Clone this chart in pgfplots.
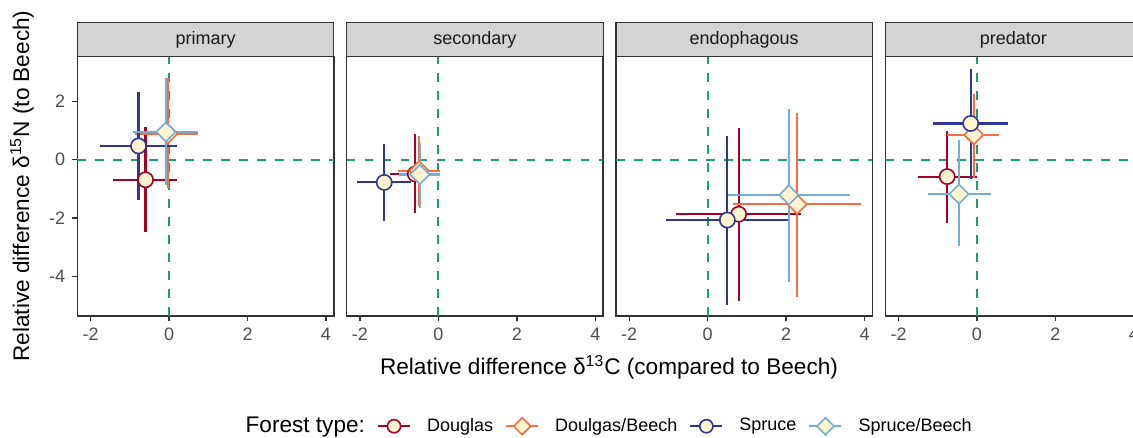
\documentclass[border=0pt]{standalone}
\usepackage{pgfplots}
\pgfplotsset{compat=1.18}
\usepackage{pgfplotstable}
\usepackage{fontspec}
\setmainfont{Liberation Sans}
\definecolor{dougc}{HTML}{A50026}
\definecolor{dbc}{HTML}{F46D43}
\definecolor{sprc}{HTML}{313695}
\definecolor{sbc}{HTML}{74ADD1}
\definecolor{cream}{HTML}{FFF6D0}
\definecolor{zeroc}{HTML}{1B9E77}
\definecolor{grey20}{HTML}{333333}
\definecolor{grey30}{HTML}{4D4D4D}
\definecolor{stripc}{HTML}{D4D4D4}
\definecolor{grey10}{HTML}{1A1A1A}

% p = panel (1 primary, 2 secondary, 3 endophagous, 4 predator)
\pgfplotstableread{
p x y xm xp ym yp
1 -0.60 -0.69 0.82 0.80 1.78 1.80
2 -0.59 -0.49 0.64 0.63 1.35 1.36
3 0.79 -1.87 1.60 1.58 2.98 2.97
4 -0.76 -0.58 0.75 0.76 1.60 1.56
}\tDoug
\pgfplotstableread{
p x y xm xp ym yp
1 -0.03 0.89 0.84 0.78 1.87 1.90
2 -0.49 -0.38 0.53 0.52 1.22 1.19
3 2.28 -1.53 1.64 1.64 3.17 3.14
4 -0.08 0.85 0.69 0.63 1.49 1.40
}\tDB
\pgfplotstableread{
p x y xm xp ym yp
1 -0.78 0.47 0.98 0.98 1.85 1.84
2 -1.38 -0.78 0.69 0.67 1.33 1.32
3 0.50 -2.07 1.57 1.57 2.91 2.88
4 -0.16 1.24 0.95 0.94 1.90 1.86
}\tSpr
\pgfplotstableread{
p x y xm xp ym yp
1 -0.08 0.95 0.83 0.83 1.82 1.84
2 -0.47 -0.51 0.53 0.50 1.16 1.09
3 2.07 -1.21 1.54 1.56 3.00 2.94
4 -0.46 -1.18 0.80 0.82 1.78 1.86
}\tSB

\pgfplotsset{
  panel/.style={
    scale only axis, width=128.25pt, height=129.65pt,
    xmin=-2.34, xmax=4.20, ymin=-5.36, ymax=3.53,
    clip=false, axis line style={grey20, line width=0.7pt},
    xtick={-2,0,2,4}, ytick={-4,-2,0,2},
    tick align=outside, major tick length=2.5pt,
    tick style={grey20, line width=0.7pt},
    xtick pos=bottom, ytick pos=left,
    ticklabel style={font=\fontsize{9}{10.5}\selectfont, text=grey30},
    /pgf/number format/assume math mode=true,
    anchor=south west,
  },
  zeroline/.style={forget plot, mark=none, zeroc, line width=1pt, dash pattern=on 4.4pt off 4.6pt},
  circ/.style={mark=*, mark size=3.8pt, mark options={draw=#1, fill=cream, line width=0.8pt, solid}},
  diam/.style={mark=square*, mark size=3.4pt, mark options={draw=#1, fill=cream, line width=0.8pt, solid, rotate=45}},
}

\newcommand\errs[2]{%
  \addplot[forget plot, only marks, mark=none,
    x filter/.expression={\thisrow{p}==\pn ? x : nan},
    error bars/.cd, x dir=both, y dir=both, x explicit, y explicit, error mark=none,
    error bar style={line width=1.05pt, draw=#2, solid}]
    table[x=x, y=y, x error minus=xm, x error plus=xp, y error minus=ym, y error plus=yp] {#1};
}
\newcommand\pts[2]{%
  \addplot[forget plot, only marks, #2,
    x filter/.expression={\thisrow{p}==\pn ? x : nan}]
    table[x=x, y=y] {#1};
}
\newcommand\allseries{%
  \addplot[zeroline] coordinates {(0,-5.36) (0,3.53)};
  \addplot[zeroline] coordinates {(-2.34,0) (4.20,0)};
  \errs{\tDoug}{dougc}\errs{\tDB}{dbc}\errs{\tSpr}{sprc}\errs{\tSB}{sbc}
  \pts{\tDoug}{circ=dougc}\pts{\tDB}{diam=dbc}\pts{\tSpr}{circ=sprc}\pts{\tSB}{diam=sbc}
}
\newcommand\strip[1]{%
  \draw[fill=stripc, draw=grey20, line width=0.6pt] (rel axis cs:0,1) rectangle ([yshift=17pt]rel axis cs:1,1);
  \node[font=\fontsize{9}{10.5}\selectfont, text=grey10] at ([yshift=8.5pt]rel axis cs:0.5,1) {#1};
}

\begin{document}
\begin{tikzpicture}
\def\pn{1}
\begin{axis}[panel, at={(38.65pt,-158pt)},
  legend columns=5,
  legend style={at={(2.048,-0.425)}, anchor=center, draw=none, fill=none,
    font=\fontsize{9}{10.5}\selectfont,
    /tikz/every odd column/.append style={column sep=6pt},
    /tikz/every even column/.append style={column sep=4pt}},
  legend image code/.code={\draw[mark repeat=2, mark phase=2, #1] plot coordinates {(0pt,0pt) (8pt,0pt) (16pt,0pt)};},
]
\allseries
\strip{primary}
\addlegendimage{empty legend}\addlegendentry{\fontsize{11.3}{13}\selectfont Forest type:\hspace{11pt}}
\addlegendimage{line width=1.05pt, dougc, mark=*, mark size=3.3pt, mark options={fill=cream, line width=0.8pt}}\addlegendentry{Douglas}
\addlegendimage{line width=1.05pt, dbc, mark=square*, mark size=3pt, mark options={fill=cream, line width=0.8pt, rotate=45}}\addlegendentry{Doulgas/Beech}
\addlegendimage{line width=1.05pt, sprc, mark=*, mark size=3.3pt, mark options={fill=cream, line width=0.8pt}}\addlegendentry{Spruce}
\addlegendimage{line width=1.05pt, sbc, mark=square*, mark size=3pt, mark options={fill=cream, line width=0.8pt, rotate=45}}\addlegendentry{Spruce/Beech}
\end{axis}
\def\pn{2}
\begin{axis}[panel, at={(173.3pt,-158pt)}, ytick=\empty]
\allseries
\strip{secondary}
\end{axis}
\def\pn{3}
\begin{axis}[panel, at={(307.95pt,-158pt)}, ytick=\empty]
\allseries
\strip{endophagous}
\end{axis}
\def\pn{4}
\begin{axis}[panel, at={(442.6pt,-158pt)}, ytick=\empty]
\allseries
\strip{predator}
\end{axis}
\node[font=\fontsize{11.3}{13}\selectfont] at (304.5pt,-183.5pt) {Relative difference δ\textsuperscript{13}C (compared to Beech)};
\node[font=\fontsize{11.3}{13}\selectfont, rotate=90] at (11pt,-93pt) {Relative difference δ\textsuperscript{15}N (to Beech)};
\pgfresetboundingbox
\useasboundingbox (0pt,0pt) rectangle (566.5pt,-219pt);
\end{tikzpicture}
\end{document}
